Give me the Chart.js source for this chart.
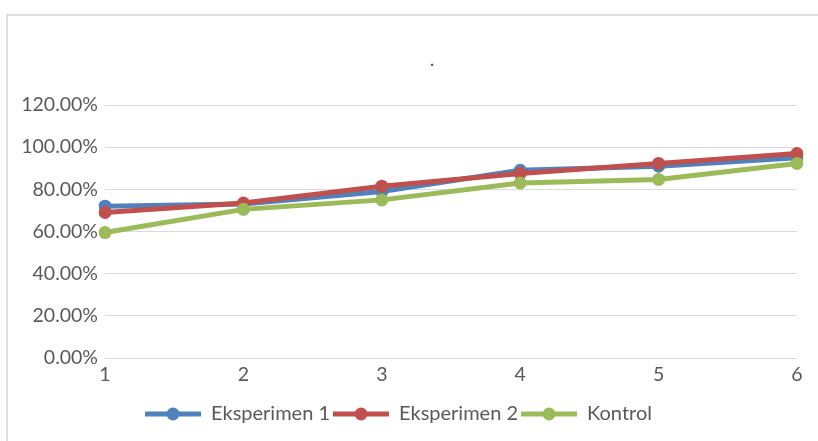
<!DOCTYPE html>
<html>
<head>
<meta charset="utf-8">
<script src="https://cdn.jsdelivr.net/npm/chart.js@4.4.1/dist/chart.umd.min.js"></script>
<style>
  html, body { margin: 0; padding: 0; background: #ffffff; overflow: hidden; }
  #wrap { position: relative; width: 818px; height: 441px; overflow: hidden; }
  #frame { position: absolute; left: 6px; top: 14px; width: 840px; height: 460px;
           border: 2px solid #dedede; box-sizing: border-box; }
  #c { position: absolute; left: 0; top: 0; }
</style>
</head>
<body>
<div id="wrap">
  <div id="frame"></div>
  <canvas id="c" width="818" height="441"></canvas>
</div>
<script>
// Session numbers along the x axis
const sessions = ['1', '2', '3', '4', '5', '6'];

// Share of correct answers per session (fractions, shown as percentages)
const eksperimen1 = [0.72, 0.73, 0.79, 0.89, 0.91, 0.95];
const eksperimen2 = [0.69, 0.735, 0.815, 0.875, 0.923, 0.97];
const kontrol     = [0.595, 0.705, 0.75, 0.83, 0.847, 0.923];

const seriesNames  = ['Eksperimen 1', 'Eksperimen 2', 'Kontrol'];
const seriesColors = ['#4F81BD', '#C0504D', '#9BBB59'];
const chartTitle   = '.';

const TEXT = '#595959';
const FONT = 'Lato, "Open Sans", sans-serif';

// Legend symbol: a short line with a dot in the middle
function legendSymbol(color) {
  const cv = document.createElement('canvas');
  cv.width = 56; cv.height = 16;
  const g = cv.getContext('2d');
  g.strokeStyle = color;
  g.lineWidth = 5;
  g.beginPath(); g.moveTo(0, 8); g.lineTo(56, 8); g.stroke();
  g.fillStyle = color;
  g.beginPath(); g.arc(28, 8, 6.5, 0, Math.PI * 2); g.fill();
  return cv;
}
const symbols = seriesColors.map(legendSymbol);

function lineSet(label, values, color, order) {
  return {
    label: label,
    data: values,
    borderColor: color,
    backgroundColor: color,
    borderWidth: 5,
    pointRadius: 6.5,
    pointHoverRadius: 6.5,
    pointBackgroundColor: color,
    pointBorderColor: color,
    pointBorderWidth: 0,
    tension: 0,
    fill: false,
    order: order
  };
}

// Chart title, placed a little left of the plot centre above the top gridline
const titleText = {
  id: 'titleText',
  afterDraw(chart) {
    const { ctx, chartArea } = chart;
    ctx.save();
    ctx.fillStyle = TEXT;
    ctx.font = '19.5px ' + FONT;
    ctx.textAlign = 'center';
    ctx.textBaseline = 'alphabetic';
    ctx.fillText(chartTitle, (chartArea.left + chartArea.right) / 2 - 19, chartArea.top - 39);
    ctx.restore();
  }
};

new Chart(document.getElementById('c'), {
  type: 'line',
  data: {
    labels: sessions,
    datasets: [
      lineSet(seriesNames[0], eksperimen1, seriesColors[0], 3),
      lineSet(seriesNames[1], eksperimen2, seriesColors[1], 2),
      lineSet(seriesNames[2], kontrol, seriesColors[2], 1)
    ]
  },
  plugins: [titleText],
  options: {
    responsive: false,
    animation: false,
    devicePixelRatio: 1,
    layout: { padding: { left: 0, right: 21, top: 105, bottom: 7 } },
    plugins: {
      title: { display: false },
      legend: {
        display: true,
        position: 'bottom',
        labels: {
          usePointStyle: true,
          pointStyleWidth: 56,
          padding: 3,
          color: TEXT,
          font: { family: FONT, size: 20 },
          sort: (a, b) => a.datasetIndex - b.datasetIndex,
          generateLabels: (chart) => {
            const items = Chart.defaults.plugins.legend.labels.generateLabels(chart);
            items.forEach(it => { it.pointStyle = symbols[it.datasetIndex]; });
            return items;
          }
        }
      },
      tooltip: { enabled: false }
    },
    scales: {
      x: {
        offset: false,
        grid: { display: false, drawTicks: false },
        border: { display: false },
        ticks: { color: TEXT, font: { family: FONT, size: 19.5 }, padding: 5, maxRotation: 0 },
        afterFit: (s) => { s.height = 43; }
      },
      y: {
        min: 0,
        max: 1.2,
        grid: { color: '#d9d9d9', lineWidth: 1, drawTicks: false },
        border: { display: false },
        ticks: {
          stepSize: 0.2,
          padding: 7,
          color: TEXT,
          font: { family: FONT, size: 19.5 },
          callback: (v) => (v * 100).toFixed(2) + '%'
        },
        afterFit: (s) => { s.width = 105; }
      }
    }
  }
});
</script>
</body>
</html>
